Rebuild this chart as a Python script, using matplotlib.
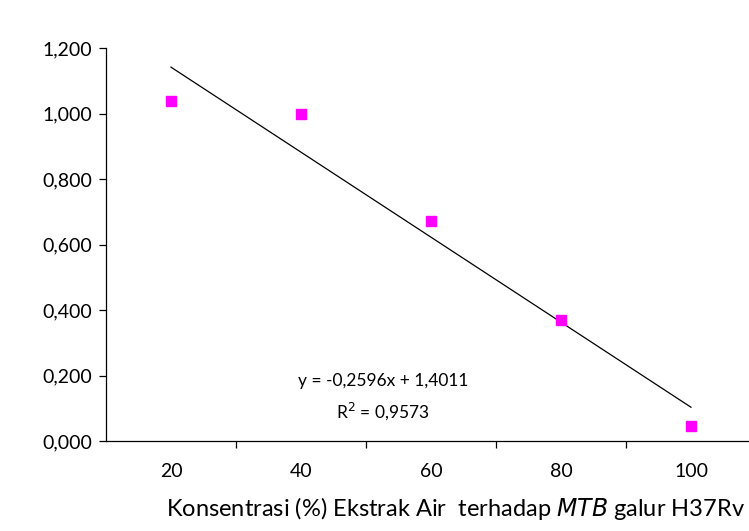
import matplotlib
matplotlib.use('Agg')
import matplotlib.pyplot as plt
import numpy as np

plt.rcParams['font.family'] = ['Lato', 'DejaVu Sans']

# data
konsentrasi = ['20', '40', '60', '80', '100']
nilai = [1.038, 0.997, 0.673, 0.369, 0.045]
slope = -0.2596
intercept = 1.4011
yticks = [0.0, 0.2, 0.4, 0.6, 0.8, 1.0, 1.2]

fig = plt.figure(figsize=(7.49, 5.31), dpi=100)
ax = fig.add_axes([106/749, 90/531, 650/749, 393/531])

x = np.arange(1, len(konsentrasi) + 1)
ax.plot(x, nilai, 's', color='#ff00ff', markersize=6.5, zorder=3)
xl = np.array([x[0], x[-1]])
ax.plot(xl, slope * xl + intercept, color='black', linewidth=0.9)

ax.set_xlim(0.5, len(konsentrasi) + 0.5)
ax.set_ylim(0, 1.2)

# tick marks between categories, labels at the centres
ax.set_xticks(np.arange(1.5, len(konsentrasi) + 0.5, 1.0))
ax.set_xticklabels([])
ax.set_xticks(x, minor=True)
ax.set_xticklabels(konsentrasi, minor=True)
ax.tick_params(axis='x', which='major', direction='out', length=5, width=0.9)
ax.tick_params(axis='x', which='minor', length=0, pad=16, labelsize=14)

ax.set_yticks(yticks)
ax.set_yticklabels([('%.3f' % v).replace('.', ',') for v in yticks])
ax.tick_params(axis='y', direction='out', length=5, width=0.9, pad=5, labelsize=14)

for s in ['top', 'right']:
    ax.spines[s].set_visible(False)
ax.spines['left'].set_linewidth(0.9)
ax.spines['bottom'].set_linewidth(0.9)

ax.text(2.63, 0.183, 'y = -0,2596x + 1,4011', ha='center', va='center', fontsize=12.5)
ax.text(2.63, 0.092, 'R$^2$ = 0,9573', ha='center', va='center', fontsize=12.5)

fig.text(455/749, 1 - 508/531, 'Konsentrasi (%) Ekstrak Air  terhadap $\\it{MTB}$ galur H37Rv',
         ha='center', va='center', fontsize=17)

fig.savefig('out.png', dpi=100)
